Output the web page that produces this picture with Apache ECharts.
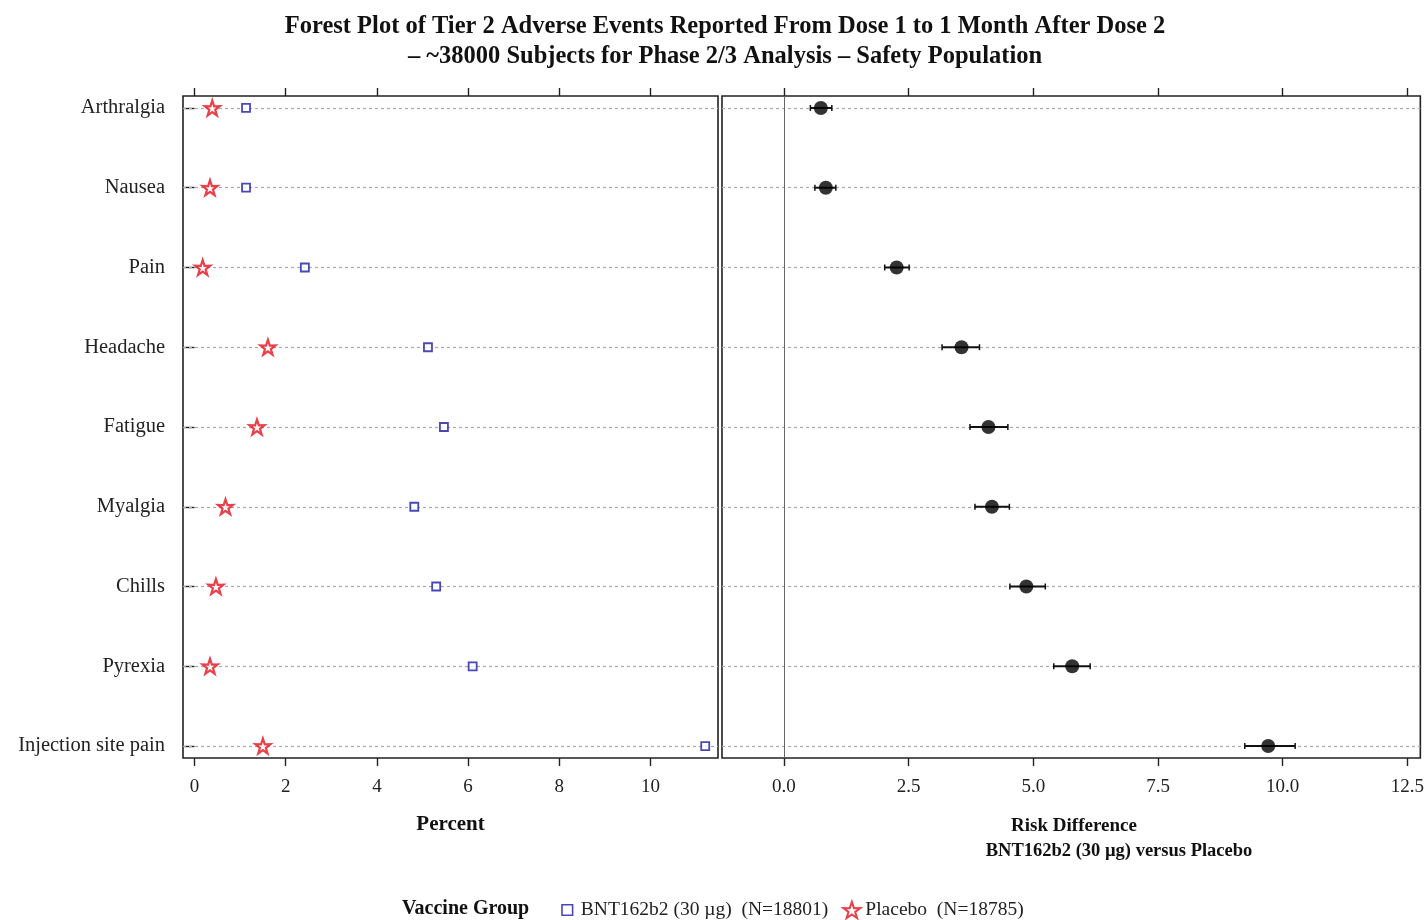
<!DOCTYPE html>
<html>
<head>
<meta charset="utf-8">
<script src="https://cdn.jsdelivr.net/npm/echarts@6/dist/echarts.min.js"></script>
<style>
html,body{margin:0;padding:0;background:#fff;}
#main{width:1427px;height:920px;}
</style>
</head>
<body>
<div id="main"></div>
<script>
// ---- data ----
const categories = ['Arthralgia','Nausea','Pain','Headache','Fatigue','Myalgia','Chills','Pyrexia','Injection site pain'];
const bntPct     = [1.13, 1.13, 2.42, 5.12, 5.47, 4.82, 5.30, 6.10, 11.20];
const placeboPct = [0.39, 0.34, 0.18, 1.61, 1.37, 0.68, 0.47, 0.34, 1.50];
const riskDiff   = [0.74, 0.84, 2.26, 3.56, 4.10, 4.17, 4.86, 5.78, 9.71];
const ciLow      = [0.53, 0.62, 2.02, 3.17, 3.73, 3.83, 4.53, 5.41, 9.24];
const ciHigh     = [0.96, 1.04, 2.51, 3.92, 4.49, 4.52, 5.24, 6.14, 10.25];
const pctTicks   = [0, 2, 4, 6, 8, 10];
const rdTicks    = [0, 2.5, 5, 7.5, 10, 12.5];
const rowIdx     = categories.map((c, i) => i + 1);

const FONT = 'Liberation Serif';
const starPath = 'path://M50,0 L61.8,35.1 L97.6,34.5 L68.8,56.2 L79.4,90.5 L50,70 L20.6,90.5 L31.2,56.2 L2.4,34.5 L38.2,35.1 Z';
const BLUE = '#1a1aa8';
const RED = '#e4101c';

const chart = echarts.init(document.getElementById('main'), null, {renderer: 'canvas'});

const tickStyle = {show: true, length: 8, inside: false, lineStyle: {color: '#222', width: 1.4}};
function xAxes(grid, min, max, ticks, fmt, name) {
  return [
    {
      type: 'value', gridIndex: grid, position: 'bottom', min: min, max: max,
      axisLine: {show: false},
      axisTick: Object.assign({customValues: ticks}, tickStyle),
      axisLabel: {customValues: ticks, formatter: fmt, fontFamily: FONT, fontSize: 19, color: '#222', margin: 20},
      splitLine: {show: false},
      name: name, nameLocation: 'middle', nameGap: 56,
      nameTextStyle: {fontFamily: FONT, fontWeight: 'bold', fontSize: 21, color: '#111'}
    },
    {
      type: 'value', gridIndex: grid, position: 'top', min: min, max: max,
      axisLine: {show: false},
      axisTick: Object.assign({customValues: ticks}, tickStyle),
      axisLabel: {show: false},
      splitLine: {show: false}
    }
  ];
}

const option = {
  backgroundColor: '#fff',
  animation: false,
  title: {
    text: 'Forest Plot of Tier 2 Adverse Events Reported From Dose 1 to 1 Month After Dose 2\n\u2013 ~38000 Subjects for Phase 2/3 Analysis \u2013 Safety Population',
    left: 720, top: 7, textAlign: 'center',
    textStyle: {fontFamily: FONT, fontWeight: 'bold', fontSize: 24.5, lineHeight: 30, color: '#111'}
  },
  grid: [
    {left: 183, top: 96, width: 535, height: 662, show: true, borderColor: '#222', borderWidth: 1.6, backgroundColor: '#fff'},
    {left: 722, top: 96, width: 699, height: 662, show: true, borderColor: '#222', borderWidth: 1.6, backgroundColor: '#fff'}
  ],
  xAxis: [].concat(
    xAxes(0, -0.252, 11.48, pctTicks, v => String(v), 'Percent'),
    xAxes(1, -1.242, 12.76, rdTicks, v => v.toFixed(1), '')
  ),
  yAxis: [
    {
      type: 'value', gridIndex: 0, inverse: true, min: 0.85, max: 9.15,
      axisLine: {show: false},
      axisTick: Object.assign({customValues: rowIdx}, tickStyle, {length: 10}),
      axisLabel: {customValues: rowIdx, formatter: v => categories[Math.round(v) - 1] || '',
        fontFamily: FONT, fontSize: 20.5, color: '#222', margin: 18},
      splitLine: {show: false}
    },
    {
      type: 'value', gridIndex: 1, inverse: true, min: 0.85, max: 9.15,
      axisLine: {show: false}, axisTick: {show: false}, axisLabel: {show: false}, splitLine: {show: false}
    }
  ],
  legend: {
    left: 558, top: 900, itemWidth: 17, itemHeight: 17, itemGap: 14, padding: 0,
    textStyle: {fontFamily: FONT, fontSize: 19.5, color: '#222'},
    selectedMode: false,
    data: [
      {name: 'BNT162b2 (30 \u00b5g)  (N=18801)', icon: 'path://M0,0M16,16M3,3L13,3L13,13L3,13Z',
        itemStyle: {color: '#fff', borderColor: BLUE, borderWidth: 1.6}},
      {name: 'Placebo  (N=18785)', icon: starPath,
        itemStyle: {color: '#fff', borderColor: RED, borderWidth: 2}}
    ]
  },
  graphic: [
    {type: 'text', x: 402, y: 909, style: {text: 'Vaccine Group', font: 'bold 20px "Liberation Serif"', fill: '#111', verticalAlign: 'middle'}},
    {type: 'text', x: 1074, y: 826, style: {text: 'Risk Difference', font: 'bold 19px "Liberation Serif"', fill: '#111', align: 'center', verticalAlign: 'middle'}},
    {type: 'text', x: 1119, y: 851, style: {text: 'BNT162b2 (30 \u00b5g) versus Placebo', font: 'bold 18.5px "Liberation Serif"', fill: '#111', align: 'center', verticalAlign: 'middle'}}
  ],
  series: [
    {
      name: 'grid lines left', type: 'scatter', xAxisIndex: 0, yAxisIndex: 0, data: [], silent: true,
      markLine: {silent: true, symbol: ['none', 'none'], label: {show: false}, z: 1,
        lineStyle: {type: [3, 3], color: '#aaa', width: 1.2},
        data: rowIdx.map(r => ({yAxis: r}))}
    },
    {
      name: 'BNT162b2 (30 \u00b5g)  (N=18801)', type: 'scatter', xAxisIndex: 0, yAxisIndex: 0, z: 10,
      symbol: 'rect', symbolSize: 8,
      itemStyle: {color: '#fff', borderColor: BLUE, borderWidth: 1.8},
      data: bntPct.map((v, i) => [v, rowIdx[i]])
    },
    {
      name: 'Placebo  (N=18785)', type: 'scatter', xAxisIndex: 0, yAxisIndex: 0, z: 10,
      symbol: starPath, symbolSize: 15,
      itemStyle: {color: '#fff', borderColor: RED, borderWidth: 2.2},
      data: placeboPct.map((v, i) => [v, rowIdx[i]])
    },
    {
      name: 'CI', type: 'custom', xAxisIndex: 2, yAxisIndex: 1, z: 8,
      data: ciLow.map((l, i) => [l, ciHigh[i], rowIdx[i]]),
      encode: {x: [0, 1], y: 2},
      renderItem: function (params, api) {
        const y = api.value(2);
        const a = api.coord([api.value(0), y]);
        const b = api.coord([api.value(1), y]);
        const st = {stroke: '#111', lineWidth: 2};
        return {type: 'group', children: [
          {type: 'line', shape: {x1: a[0], y1: a[1], x2: b[0], y2: b[1]}, style: st},
          {type: 'line', shape: {x1: a[0], y1: a[1] - 3, x2: a[0], y2: a[1] + 3}, style: {stroke: '#111', lineWidth: 1.5}},
          {type: 'line', shape: {x1: b[0], y1: b[1] - 3, x2: b[0], y2: b[1] + 3}, style: {stroke: '#111', lineWidth: 1.5}}
        ]};
      },
      markLine: {silent: true, symbol: ['none', 'none'], label: {show: false}, z: 1,
        lineStyle: {type: [3, 3], color: '#aaa', width: 1.2},
        data: rowIdx.map(r => ({yAxis: r}))}
    },
    {
      name: 'Risk Difference', type: 'scatter', xAxisIndex: 2, yAxisIndex: 1, z: 10,
      symbol: 'circle', symbolSize: 14,
      itemStyle: {color: '#000'},
      data: riskDiff.map((v, i) => [v, rowIdx[i]]),
      markLine: {silent: true, symbol: ['none', 'none'], label: {show: false}, z: 1,
        lineStyle: {type: 'solid', color: '#666', width: 1},
        data: [{xAxis: 0}]}
    }
  ]
};
chart.setOption(option);
</script>
</body>
</html>
